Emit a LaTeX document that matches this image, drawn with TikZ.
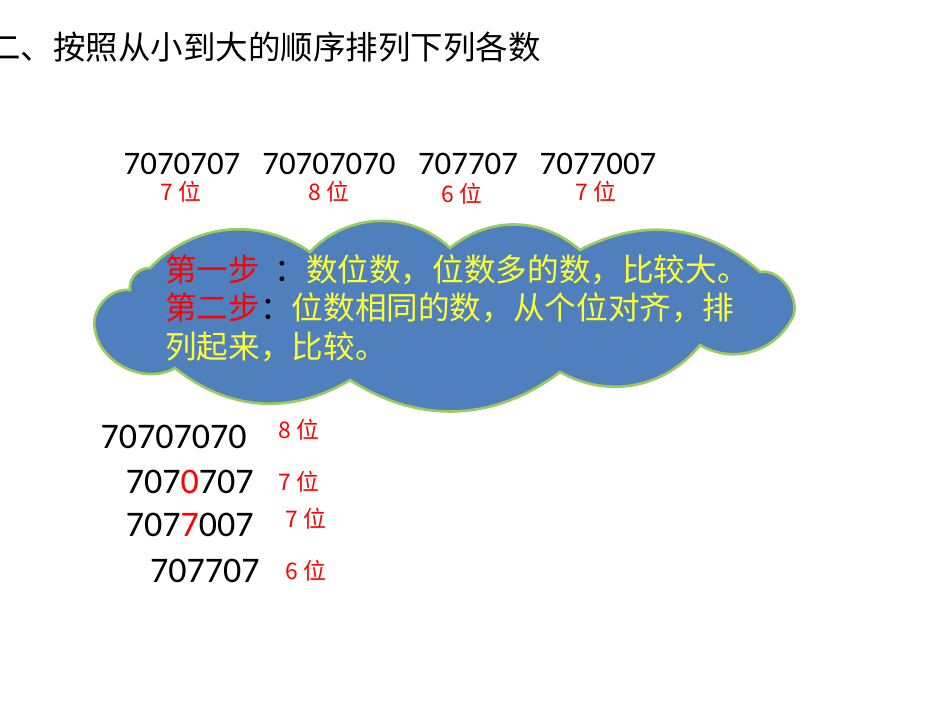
\documentclass[tikz,border=0pt]{standalone}
\usepackage{fontspec}
\setmainfont{Carlito}
\newfontfamily\cjk{Noto Sans CJK SC}
\definecolor{cloudblue}{HTML}{4F7FBD}
\definecolor{cloudedge}{HTML}{9BCB5A}
\definecolor{txtyellow}{HTML}{FFFF33}
\begin{document}
\begin{tikzpicture}[x=0.02cm,y=-0.02cm,
  num/.style={font=\fontsize{18.7}{20}\selectfont, inner sep=0pt},
  numb/.style={font=\fontsize{20.5}{22}\selectfont, inner sep=0pt, anchor=east},
  lab/.style={text=red, font=\fontsize{13}{15}\selectfont\cjk, inner sep=0pt},
  bub/.style={text=txtyellow, font=\fontsize{18}{22}\selectfont\cjk, inner sep=0pt, anchor=west}]
\useasboundingbox (0,0) rectangle (950,713);
\node[anchor=west, inner sep=0pt, font=\fontsize{18.5}{20}\selectfont\cjk] (title) at (-12,47) {二、按照从小到大的顺序排列下列各数};
% top row
\node[num] (n1) at (182,164) {7070707};
\node[num] (n2) at (329,164) {70707070};
\node[num] (n3) at (468,164) {707707};
\node[num] (n4) at (598,164) {7077007};
\node[lab] (l1) at (181,192) {7 位};
\node[lab] (l2) at (329,192) {8 位};
\node[lab] (l3) at (462,194) {6 位};
\node[lab] (l4) at (596,192) {7 位};
% cloud
\draw[fill=cloudblue, draw=cloudedge, line width=1.5pt]
 (150,268) to[bend left=40] (310,252) to[bend left=45] (450,248)
 to[bend left=40] (580,250) to[bend left=35] (760,272)
 to[bend left=70] (790,322) to[bend left=45] (700,345)
 to[bend left=40] (560,372) to[bend left=35] (350,380)
 to[bend left=35] (175,368) to[bend left=55] (95,330)
 to[bend left=55] (130,290) to[bend left=50] (150,268) -- cycle;
\node[bub] (b1) at (165,270) {\textcolor{red}{第一步}\ \ \textcolor{black}{：}数位数，位数多的数，比较大。};
\node[bub] (b2) at (165,308) {\textcolor{red}{第二步}\textcolor{black}{：}位数相同的数，从个位对齐，排};
\node[bub] (b3) at (165,347) {列起来，比较。};
% list
\node[numb] (m1) at (247,437) {70707070};
\node[numb] (m2) at (254,482) {707\textcolor{red}{0}707};
\node[numb] (m3) at (254,525) {707\textcolor{red}{7}007};
\node[numb] (m4) at (260,571) {707707};
\node[lab] (k1) at (299,430) {8 位};
\node[lab] (k2) at (299,482) {7 位};
\node[lab] (k3) at (306,519) {7 位};
\node[lab] (k4) at (306,571) {6 位};
\end{tikzpicture}
\end{document}
